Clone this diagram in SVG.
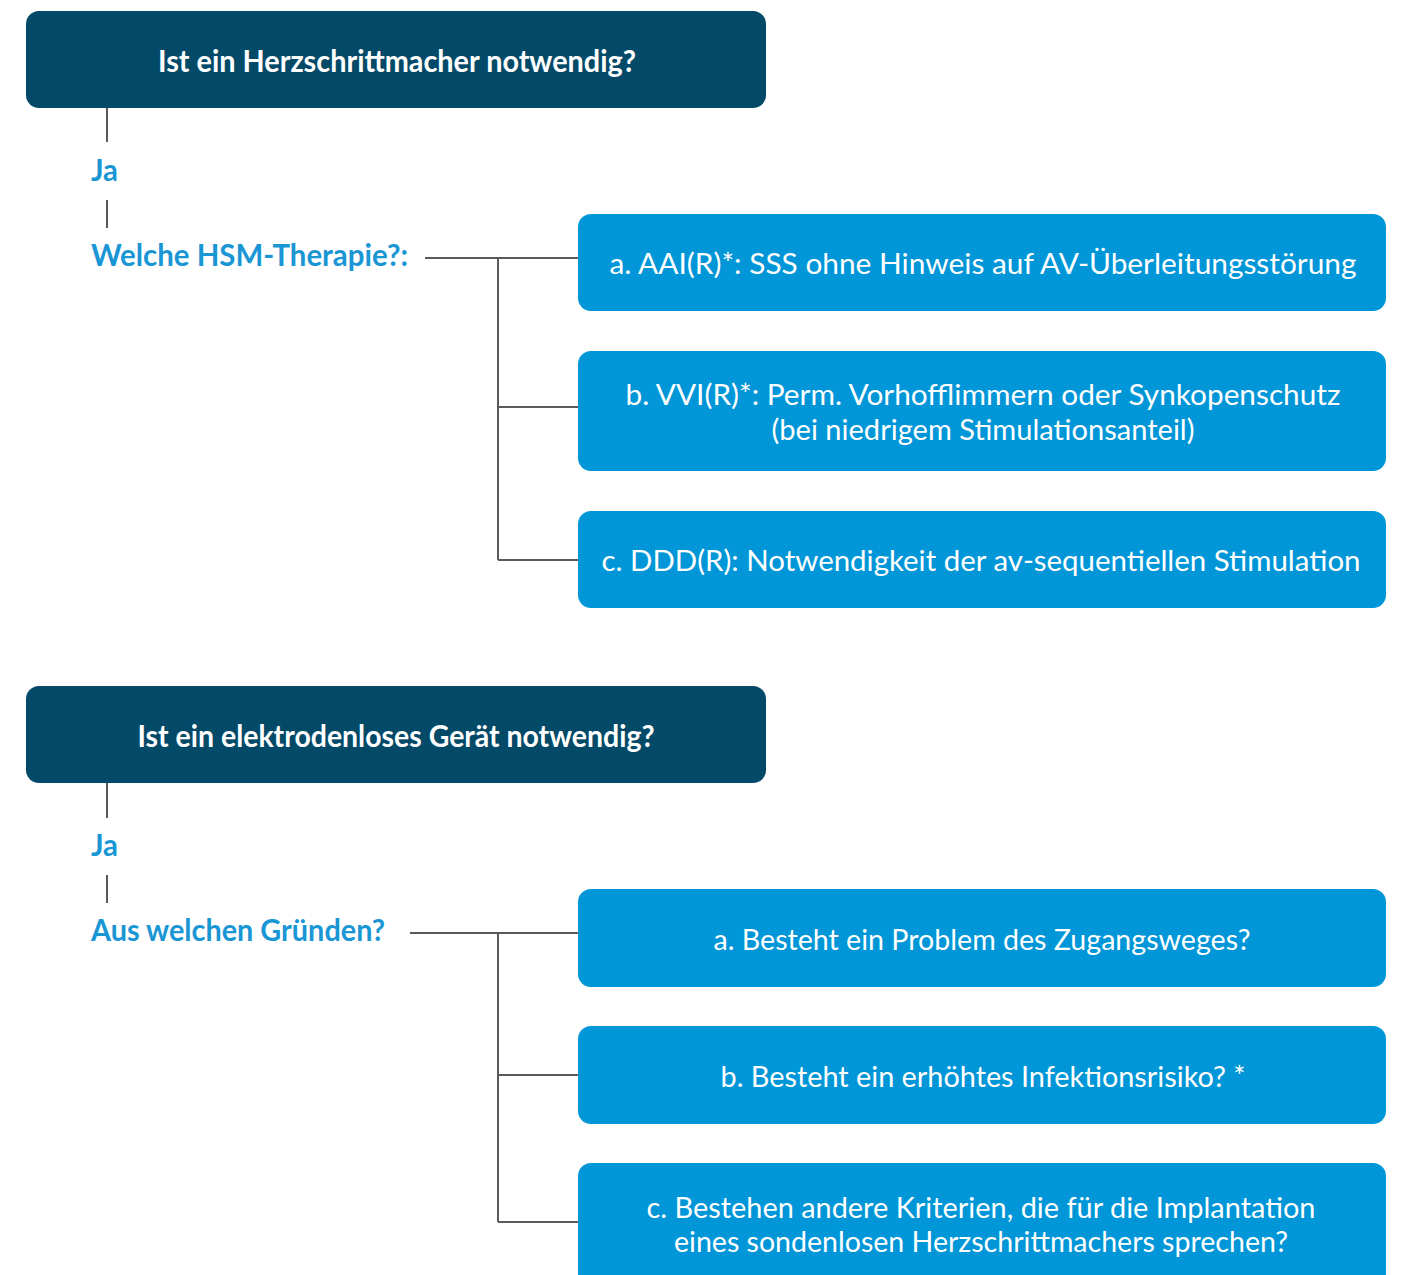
<svg xmlns="http://www.w3.org/2000/svg" width="1401" height="1275" viewBox="0 0 1401 1275">
<style>
.hdr{fill:#034A69}
.opt{fill:#0096D7}
.ht{font-family:Lato,"Liberation Sans",sans-serif;font-weight:700;font-size:31px;fill:#ffffff;text-anchor:middle}
.lbl{font-family:Lato,"Liberation Sans",sans-serif;font-weight:700;font-size:30px;fill:#1A96D5}
.ot{font-family:Lato,"Liberation Sans",sans-serif;font-weight:400;font-size:29px;fill:#ffffff;text-anchor:middle}
.ln{stroke:#5A5A5E;stroke-width:2;fill:none}
</style>
<rect width="1401" height="1275" fill="#ffffff"/>
<g id="connectors">
<path class="ln" d="M107 108V142M107 200V228"/>
<path class="ln" d="M425 258H578M498 258V560M498 407H578M498 560H578"/>
<path class="ln" d="M107 783V818M107 875V903"/>
<path class="ln" d="M410 933H578M498 933V1222M498 1075H578M498 1222H578"/>
</g>
<g id="q1">
<rect class="hdr" x="26" y="11" width="740" height="97" rx="13"/>
<text class="ht" x="397" y="72" textLength="478" lengthAdjust="spacingAndGlyphs">Ist ein Herzschrittmacher notwendig?</text>
</g>
<g id="ja1"><text class="lbl" x="91" y="181" textLength="27" lengthAdjust="spacingAndGlyphs">Ja</text></g>
<g id="therapie"><text class="lbl" x="91" y="266" textLength="317" lengthAdjust="spacingAndGlyphs">Welche HSM-Therapie?:</text></g>
<g id="t-a">
<rect class="opt" x="578" y="214" width="808" height="97" rx="13"/>
<text class="ot" x="983" y="274" textLength="747" lengthAdjust="spacingAndGlyphs">a. AAI(R)*: SSS ohne Hinweis auf AV-Überleitungsstörung</text>
</g>
<g id="t-b">
<rect class="opt" x="578" y="351" width="808" height="120" rx="13"/>
<text class="ot" x="983" y="405" textLength="715" lengthAdjust="spacingAndGlyphs">b. VVI(R)*: Perm. Vorhofflimmern oder Synkopenschutz</text>
<text class="ot" x="983" y="440" textLength="423" lengthAdjust="spacingAndGlyphs">(bei niedrigem Stimulationsanteil)</text>
</g>
<g id="t-c">
<rect class="opt" x="578" y="511" width="808" height="97" rx="13"/>
<text class="ot" x="981" y="571" textLength="759" lengthAdjust="spacingAndGlyphs">c. DDD(R): Notwendigkeit der av-sequentiellen Stimulation</text>
</g>
<g id="q2">
<rect class="hdr" x="26" y="686" width="740" height="97" rx="13"/>
<text class="ht" x="396" y="747" textLength="517" lengthAdjust="spacingAndGlyphs">Ist ein elektrodenloses Gerät notwendig?</text>
</g>
<g id="ja2"><text class="lbl" x="91" y="856" textLength="27" lengthAdjust="spacingAndGlyphs">Ja</text></g>
<g id="gruende"><text class="lbl" x="91" y="941" textLength="294" lengthAdjust="spacingAndGlyphs">Aus welchen Gründen?</text></g>
<g id="g-a">
<rect class="opt" x="578" y="889" width="808" height="98" rx="13"/>
<text class="ot" x="982" y="950" textLength="537" lengthAdjust="spacingAndGlyphs">a. Besteht ein Problem des Zugangsweges?</text>
</g>
<g id="g-b">
<rect class="opt" x="578" y="1026" width="808" height="98" rx="13"/>
<text class="ot" x="983" y="1087" textLength="525" lengthAdjust="spacingAndGlyphs">b. Besteht ein erhöhtes Infektionsrisiko? *</text>
</g>
<g id="g-c">
<rect class="opt" x="578" y="1163" width="808" height="130" rx="13"/>
<text class="ot" x="981" y="1218" textLength="669" lengthAdjust="spacingAndGlyphs">c. Bestehen andere Kriterien, die für die Implantation</text>
<text class="ot" x="981" y="1252" textLength="614" lengthAdjust="spacingAndGlyphs">eines sondenlosen Herzschrittmachers sprechen?</text>
</g>
</svg>
